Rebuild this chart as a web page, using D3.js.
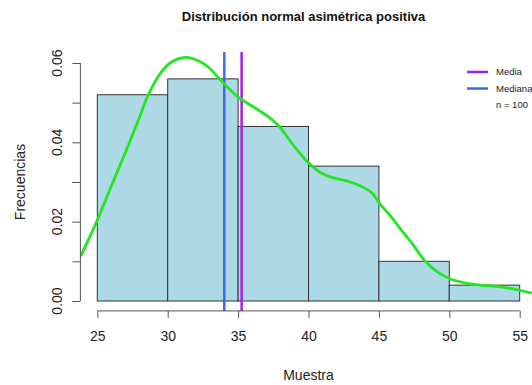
<!DOCTYPE html>
<html>
<head>
<meta charset="utf-8">
<script src="https://cdn.jsdelivr.net/npm/d3@7"></script>
<style>
  body { margin: 0; background: #fff; }
  svg { display: block; font-family: "Liberation Sans", Arial, sans-serif; }
</style>
</head>
<body>
<script>
// histograma (densidad) por intervalos de 5
var binStarts = [25, 30, 35, 40, 45, 50];
var binWidth = 5;
var densidades = [0.052, 0.056, 0.044, 0.034, 0.010, 0.004];

// curva de densidad
var curvaX = [23.82, 25.0, 26.0, 27.0, 28.0, 28.62, 29.57, 30.3, 31.23, 32.1, 32.88, 33.6, 34.3, 35.0, 35.7,
              36.5, 37.2, 37.93, 38.92, 40.03, 40.8, 41.53, 42.95, 43.7, 44.5, 45.0, 45.8, 46.5, 47.44,
              48.27, 49.2, 50.05, 51.47, 52.89, 54.31, 55.85];
var curvaY = [0.0113, 0.0204, 0.029, 0.0375, 0.0463, 0.052, 0.0578, 0.0603, 0.0614, 0.0607, 0.059, 0.0563, 0.0537, 0.0514, 0.0498,
              0.048, 0.0463, 0.044, 0.0393, 0.0347, 0.0325, 0.0313, 0.03, 0.029, 0.0273, 0.0248, 0.0215, 0.0183, 0.0141,
              0.0101, 0.0072, 0.0056, 0.0043, 0.0038, 0.0032, 0.002];

var media = 35.25;
var mediana = 34.02;
var n = 100;

var xTicks = [25, 30, 35, 40, 45, 50, 55];
var yTicks = [0, 0.01, 0.02, 0.03, 0.04, 0.05, 0.06];
var yLabels = [0, 0.02, 0.04, 0.06];

var width = 532, height = 385;

var x = d3.scaleLinear().domain([25, 55]).range([97.3, 519.7]);
var y = d3.scaleLinear().domain([0, 0.06]).range([301, 63]);

var svg = d3.select('body').append('svg')
    .attr('width', width)
    .attr('height', height);

svg.append('rect').attr('width', width).attr('height', height).style('fill', '#fff');

svg.append('defs').append('clipPath').attr('id', 'plotArea')
  .append('rect')
    .attr('x', x(23.8))
    .attr('y', y(0.0628))
    .attr('width', width - x(23.8))
    .attr('height', y(-0.0025) - y(0.0628));

// barras
svg.selectAll('.bar')
    .data(binStarts)
  .enter().append('rect')
    .attr('class', 'bar')
    .attr('x', function(d) { return x(d); })
    .attr('width', function(d) { return x(d + binWidth) - x(d); })
    .attr('y', function(d, i) { return y(densidades[i]); })
    .attr('height', function(d, i) { return y(0) - y(densidades[i]); })
    .style('fill', '#add8e6')
    .style('stroke', '#333')
    .style('stroke-width', 1);

// lineas de media y mediana
var vlines = [{v: mediana, c: '#4169e1'}, {v: media, c: '#a020f0'}];
svg.selectAll('.vline')
    .data(vlines)
  .enter().append('line')
    .attr('x1', function(d) { return x(d.v); })
    .attr('x2', function(d) { return x(d.v); })
    .attr('y1', y(0.0628))
    .attr('y2', y(-0.0025))
    .style('stroke', function(d) { return d.c; })
    .style('stroke-width', 2.5);

// curva de densidad
var curva = curvaX.map(function(d, i) { return [d, curvaY[i]]; });
svg.append('path')
    .datum(curva)
    .attr('clip-path', 'url(#plotArea)')
    .attr('d', d3.line()
        .x(function(d) { return x(d[0]); })
        .y(function(d) { return y(d[1]); })
        .curve(d3.curveCatmullRom))
    .style('fill', 'none')
    .style('stroke', '#22e622')
    .style('stroke-width', 2.8);

// eje x
var xAxis = svg.append('g')
    .attr('transform', 'translate(0,' + y(-0.0025) + ')')
    .call(d3.axisBottom(x).tickValues(xTicks).tickSize(7).tickPadding(13).tickFormat(d3.format('d')));
xAxis.select('.domain').attr('d', 'M' + x(25) + ',0H' + x(55)).style('stroke', '#555');
xAxis.selectAll('.tick line').style('stroke', '#555');
xAxis.selectAll('text').style('font-size', '14px').style('fill', '#222').style('font-family', 'Liberation Sans, Arial, sans-serif');

// eje y
var yAxis = svg.append('g')
    .attr('transform', 'translate(' + x(23.8) + ',0)')
    .call(d3.axisLeft(y).tickValues(yTicks).tickSize(8).tickFormat(''));
yAxis.select('.domain').attr('d', 'M0,' + y(0) + 'V' + y(0.06)).style('stroke', '#555');
yAxis.selectAll('.tick line').style('stroke', '#555');

svg.selectAll('.ylab')
    .data(yLabels)
  .enter().append('text')
    .attr('transform', function(d) { return 'translate(62,' + y(d) + ') rotate(-90)'; })
    .attr('text-anchor', 'middle')
    .style('font-size', '14px')
    .style('fill', '#222')
    .text(function(d) { return d3.format('.2f')(d); });

// titulos
svg.append('text')
    .attr('x', 303.5)
    .attr('y', 21)
    .attr('text-anchor', 'middle')
    .style('font-size', '13px')
    .style('font-weight', 'bold')
    .style('fill', '#111')
    .text('Distribución normal asimétrica positiva');

svg.append('text')
    .attr('x', x(40))
    .attr('y', 380)
    .attr('text-anchor', 'middle')
    .style('font-size', '14px')
    .style('fill', '#222')
    .text('Muestra');

svg.append('text')
    .attr('transform', 'translate(25,' + y(0.03) + ') rotate(-90)')
    .attr('text-anchor', 'middle')
    .style('font-size', '14px')
    .style('fill', '#222')
    .text('Frecuencias');

// leyenda
var legend = svg.selectAll('.legend')
    .data([{t: 'Media', c: '#a020f0'}, {t: 'Mediana', c: '#4169e1'}, {t: 'n = ' + n, c: null}])
  .enter().append('g')
    .attr('class', 'legend')
    .attr('transform', function(d, i) { return 'translate(467,' + (72 + i * 16.5) + ')'; });

legend.filter(function(d) { return d.c; }).append('line')
    .attr('x1', 0).attr('x2', 21)
    .style('stroke', function(d) { return d.c; })
    .style('stroke-width', 2.5);

legend.append('text')
    .attr('x', 29)
    .attr('dy', '0.35em')
    .style('font-size', '9.5px')
    .style('fill', '#222')
    .text(function(d) { return d.t; });
</script>
</body>
</html>
